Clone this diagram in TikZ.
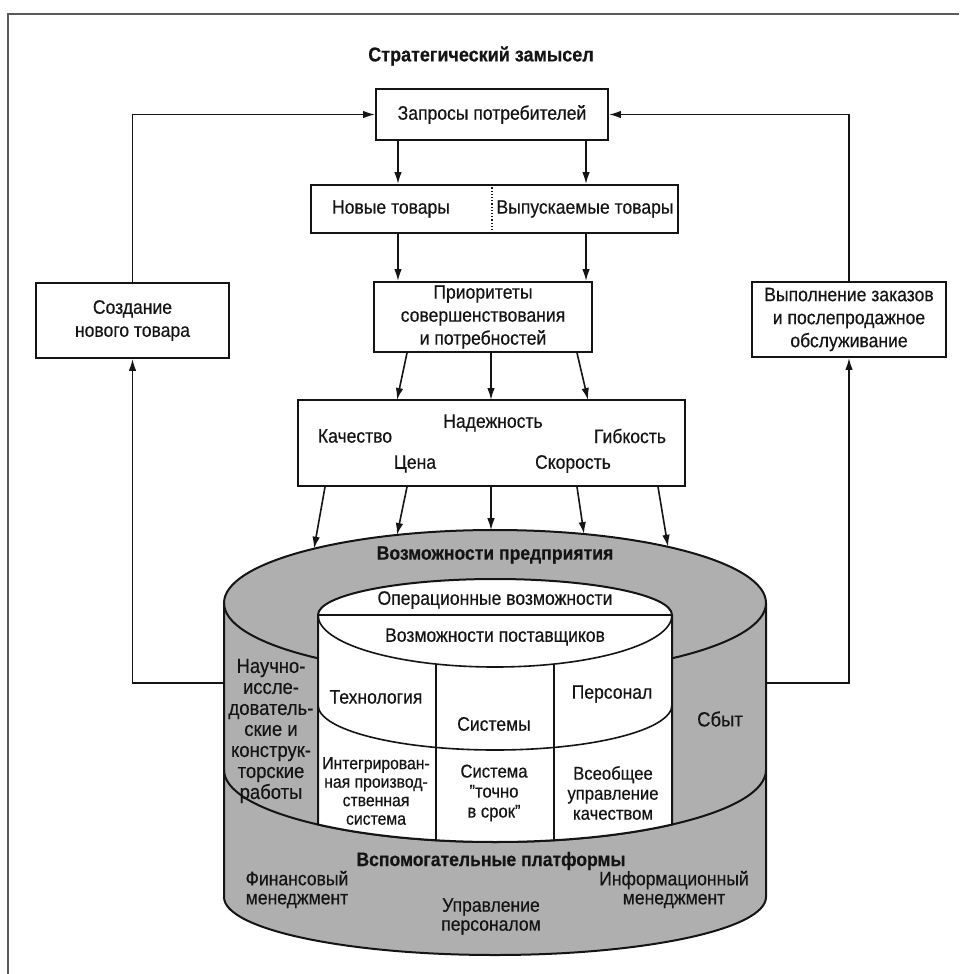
\documentclass[tikz,border=0pt]{standalone}
\usepackage{fontspec}
\setmainfont{Liberation Sans}[FakeStretch=0.9,FakeBold=0.4]
\usetikzlibrary{arrows.meta}
\definecolor{ink}{RGB}{20,20,20}
\definecolor{cylgray}{RGB}{175,175,175}
\definecolor{framegray}{RGB}{90,90,90}
\begin{document}
\begin{tikzpicture}[x=1pt,y=-1pt,
  every node/.style={font=\fontsize{19.5}{23}\selectfont, text=ink, inner sep=0pt},
  box/.style={draw=ink, line width=1.8pt, fill=white, align=center},
  arr/.style={draw=ink, line width=1.6pt, -{Latex[length=12pt,width=7.5pt]}},
  ln/.style={draw=ink, line width=1.6pt},
  cyl/.style={draw=ink, line width=2pt},
  side/.style={align=center, font=\fontsize{20.5}{21}\selectfont},
  col/.style={align=center, font=\fontsize{17.5}{18.5}\selectfont},
  col2/.style={align=center, font=\fontsize{18.5}{20}\selectfont},
  plat/.style={align=center, font=\fontsize{19.5}{19}\selectfont},
  bold/.style={font=\bfseries\fontsize{19.5}{21}\selectfont},
]
\useasboundingbox (0,0) rectangle (959,974);
\draw[line width=1.2pt, draw=framegray] (8,974) -- (8,14) -- (959,14);

% title
\node[font=\bfseries\fontsize{20}{22}\selectfont] (title) at (481,56) {Стратегический замысел};

% top boxes
\node[box, minimum width=232pt, minimum height=51pt] (zap) at (492,114.5) {Запросы потребителей};
\node[box, minimum width=367pt, minimum height=48pt] (tov) at (494.5,209) {};
\node (nov) at (391,209) {Новые товары};
\node (vyp) at (585,209) {Выпускаемые товары};
\coordinate (div) at (492,0);
\draw[ink, line width=1.2pt, dotted] (tov.north -| div) -- (tov.south -| div);

\node[box, minimum width=218pt, minimum height=70pt] (prio) at (483,317) {Приоритеты\\совершенствования\\и потребностей};

\node[box, minimum width=387pt, minimum height=86pt] (qual) at (491.5,443) {};
\node (kach) at (355,436) {Качество};
\node (nadezh) at (493,423) {Надежность};
\node (gib) at (630,436) {Гибкость};
\node (cena) at (415,464) {Цена};
\node (skor) at (573,464) {Скорость};

\node[box, minimum width=193pt, minimum height=75pt] (sozd) at (132.5,320.5) {Создание\\нового товара};
\node[box, minimum width=194pt, minimum height=75pt] (vypz) at (849,319.5) {Выполнение заказов\\и послепродажное\\обслуживание};

% column helper coordinates
\coordinate (colL) at (398,0);
\coordinate (colR) at (586,0);
\coordinate (p1) at (407,0);
\coordinate (p2) at (491,0);
\coordinate (p3) at (577,0);
\coordinate (q1) at (397,400);
\coordinate (q2) at (491,400);
\coordinate (q3) at (588,400);

\draw[arr] (zap.south -| colL) -- (tov.north -| colL);
\draw[arr] (zap.south -| colR) -- (tov.north -| colR);
\draw[arr] (tov.south -| colL) -- (prio.north -| colL);
\draw[arr] (tov.south -| colR) -- (prio.north -| colR);
\draw[arr] (prio.south -| p1) -- (q1);
\draw[arr] (prio.south -| p2) -- (q2);
\draw[arr] (prio.south -| p3) -- (q3);

% cylinder
\path[cyl, fill=cylgray] (766,603) arc[start angle=0,end angle=-180,x radius=271,y radius=73]
  -- (224,897) arc[start angle=180,end angle=0,x radius=271,y radius=58] -- cycle;
\draw[cyl] (224,603) arc[start angle=180,end angle=0,x radius=271,y radius=73];
\draw[cyl] (224,770) arc[start angle=180,end angle=0,x radius=271,y radius=72];
\path[cyl, fill=white] (318,615) -- (318,824.5)
  arc[start angle=130.8,end angle=49.2,x radius=271,y radius=72]
  -- (672,615) arc[start angle=0,end angle=-180,x radius=177,y radius=36] -- cycle;
\draw[ln] (318,615) -- (672,615);
\draw[ln] (318,615) arc[start angle=180,end angle=0,x radius=177,y radius=52];
\draw[ln] (436,664) -- (436,840.3);
\draw[ln] (554,664) -- (554,840.3);
\draw[ln] (318,705) arc[start angle=180,end angle=0,x radius=177,y radius=45];

% arrows into the cylinder
\coordinate (s1) at (325,0);
\coordinate (s2) at (407,0);
\coordinate (s3) at (491,0);
\coordinate (s4) at (577,0);
\coordinate (s5) at (658,0);
\coordinate (c1) at (314,548.7);
\coordinate (c2) at (397,535);
\coordinate (c3) at (491,530.2);
\coordinate (c4) at (584,534);
\coordinate (c5) at (668,546.8);
\draw[arr] (qual.south -| s1) -- (c1);
\draw[arr] (qual.south -| s2) -- (c2);
\draw[arr] (qual.south -| s3) -- (c3);
\draw[arr] (qual.south -| s4) -- (c4);
\draw[arr] (qual.south -| s5) -- (c5);

% side loops
\coordinate (cylL) at (224,683);
\coordinate (cylR) at (766,683);
\draw[arr] (cylL) -| (sozd.south);
\draw[arr] (sozd.north) |- (zap.west);
\draw[arr] (cylR) -| (vypz.south);
\draw[arr] (vypz.north) |- (zap.east);

% cylinder texts
\node[bold] (vozpr) at (495,555) {Возможности предприятия};
\node (oper) at (495,600) {Операционные возможности};
\node (post) at (495,637) {Возможности поставщиков};
\node[side] (niokr) at (271,731) {Научно-\\иссле-\\дователь-\\ские и\\конструк-\\торские\\работы};
\node[font=\fontsize{20.5}{21}\selectfont] (sbyt) at (720,719) {Сбыт};
\node (tech) at (376,697) {Технология};
\node (pers) at (612,694) {Персонал};
\node (sist) at (494,724) {Системы};
\node[col] (ips) at (376,791) {Интегрирован-\\ная производ-\\ственная\\система};
\node[col2] (jit) at (494,793) {Система\\"точно\\в срок"};
\node[col2] (tqm) at (613,793) {Всеобщее\\управление\\качеством};
\node[bold] (vspom) at (491,861) {Вспомогательные платформы};
\node[plat] (fin) at (297,889.5) {Финансовый\\менеджмент};
\node[plat] (upr) at (491,916.5) {Управление\\персоналом};
\node[plat] (inf) at (674,889.5) {Информационный\\менеджмент};
\end{tikzpicture}
\end{document}
